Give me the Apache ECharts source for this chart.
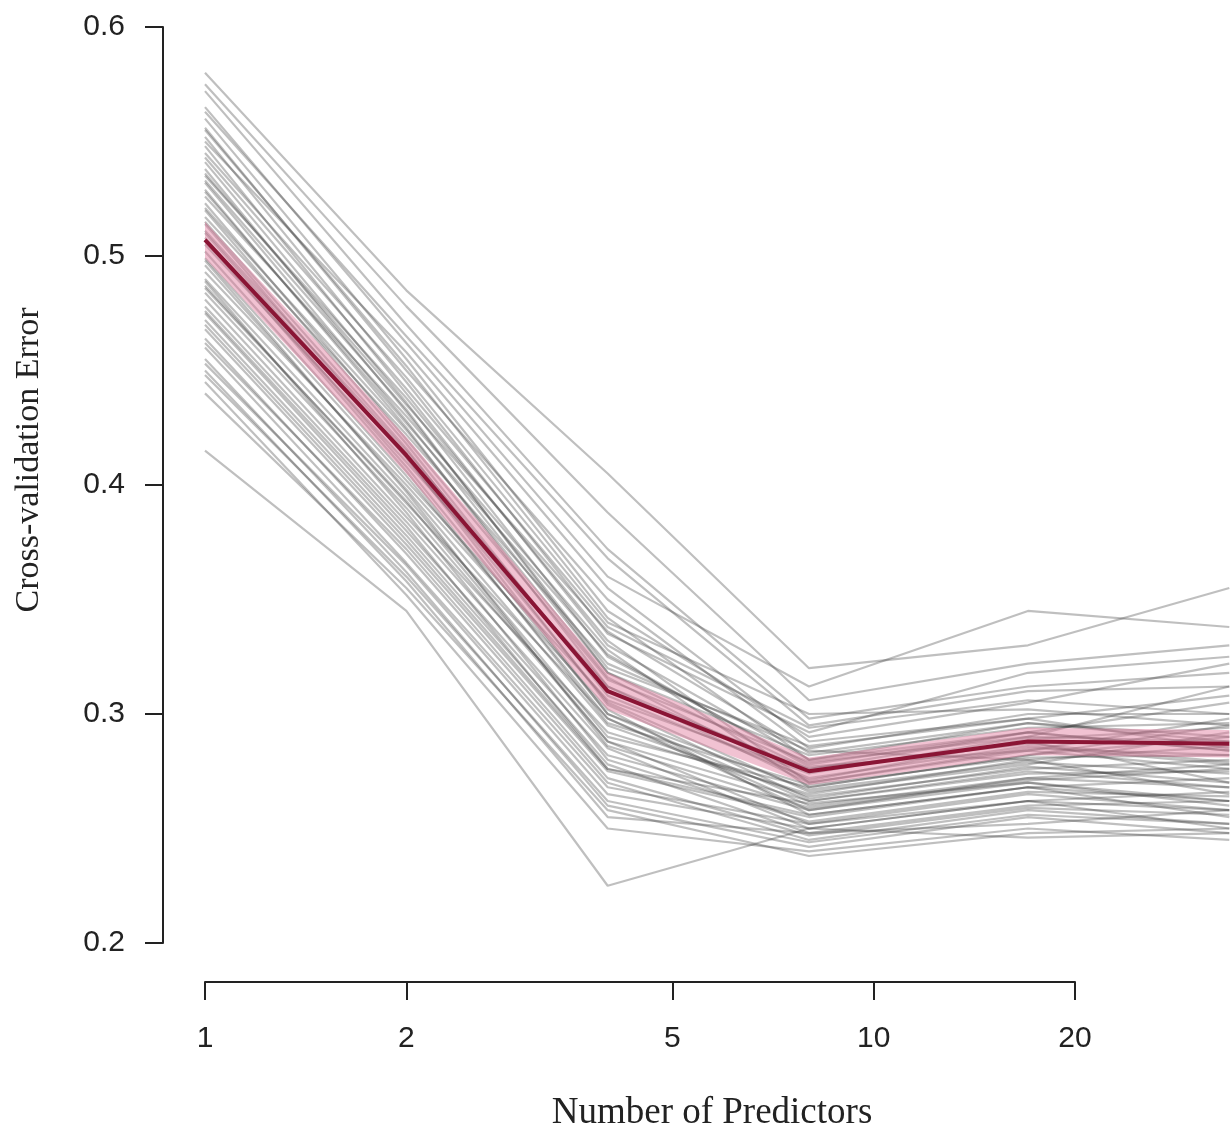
<!DOCTYPE html>
<html>
<head>
<meta charset="utf-8">
<script src="https://cdn.jsdelivr.net/npm/echarts@6/dist/echarts.min.js"></script>
<style>
html,body{margin:0;padding:0;background:#ffffff;}
#chart{width:1231px;height:1139px;}
</style>
</head>
<body>
<div id="chart"></div>
<script>
// Number of predictors at which cross-validation error was evaluated
const predictors = [1, 2, 4, 8, 17, 34];

// Individual cross-validation runs (gray lines)
const run01 = [0.580, 0.485, 0.405, 0.320, 0.330, 0.355];
const run02 = [0.572, 0.470, 0.372, 0.298, 0.312, 0.318];
const run03 = [0.565, 0.462, 0.360, 0.312, 0.345, 0.338];
const run04 = [0.560, 0.455, 0.345, 0.290, 0.305, 0.322];
const run05 = [0.556, 0.450, 0.350, 0.285, 0.300, 0.300];
const run06 = [0.552, 0.445, 0.335, 0.292, 0.318, 0.325];
const run07 = [0.548, 0.440, 0.330, 0.280, 0.296, 0.290];
const run08 = [0.545, 0.447, 0.340, 0.300, 0.302, 0.295];
const run09 = [0.541, 0.436, 0.325, 0.278, 0.292, 0.305];
const run10 = [0.538, 0.432, 0.320, 0.286, 0.298, 0.285];
const run11 = [0.535, 0.438, 0.332, 0.270, 0.285, 0.282];
const run12 = [0.532, 0.428, 0.318, 0.282, 0.294, 0.296];
const run13 = [0.529, 0.425, 0.312, 0.275, 0.288, 0.270];
const run14 = [0.526, 0.430, 0.328, 0.268, 0.282, 0.290];
const run15 = [0.523, 0.420, 0.315, 0.279, 0.290, 0.312];
const run16 = [0.520, 0.418, 0.308, 0.272, 0.286, 0.278];
const run17 = [0.517, 0.422, 0.322, 0.284, 0.280, 0.265];
const run18 = [0.514, 0.412, 0.305, 0.266, 0.278, 0.292];
const run19 = [0.511, 0.415, 0.310, 0.276, 0.292, 0.284];
const run20 = [0.508, 0.408, 0.300, 0.262, 0.274, 0.275];
const run21 = [0.505, 0.410, 0.312, 0.270, 0.284, 0.298];
const run22 = [0.502, 0.404, 0.298, 0.258, 0.270, 0.262];
const run23 = [0.499, 0.402, 0.306, 0.274, 0.290, 0.288];
const run24 = [0.496, 0.398, 0.295, 0.264, 0.276, 0.280];
const run25 = [0.493, 0.400, 0.302, 0.256, 0.268, 0.255];
const run26 = [0.490, 0.395, 0.290, 0.268, 0.282, 0.295];
const run27 = [0.487, 0.392, 0.298, 0.260, 0.272, 0.268];
const run28 = [0.484, 0.390, 0.288, 0.252, 0.265, 0.258];
const run29 = [0.481, 0.386, 0.292, 0.265, 0.280, 0.286];
const run30 = [0.478, 0.384, 0.285, 0.250, 0.262, 0.250];
const run31 = [0.475, 0.380, 0.282, 0.258, 0.272, 0.278];
const run32 = [0.472, 0.378, 0.278, 0.248, 0.260, 0.262];
const run33 = [0.468, 0.374, 0.275, 0.255, 0.268, 0.272];
const run34 = [0.464, 0.370, 0.270, 0.245, 0.258, 0.252];
const run35 = [0.460, 0.366, 0.268, 0.252, 0.262, 0.266];
const run36 = [0.455, 0.362, 0.260, 0.242, 0.255, 0.248];
const run37 = [0.450, 0.358, 0.255, 0.248, 0.252, 0.258];
const run38 = [0.445, 0.352, 0.250, 0.240, 0.250, 0.245];
const run39 = [0.440, 0.355, 0.258, 0.238, 0.248, 0.250];
const run40 = [0.415, 0.345, 0.225, 0.250, 0.246, 0.248];
const run41 = [0.575, 0.478, 0.388, 0.306, 0.322, 0.330];
const run42 = [0.563, 0.465, 0.368, 0.295, 0.310, 0.312];
const run43 = [0.550, 0.458, 0.355, 0.288, 0.298, 0.308];
const run44 = [0.543, 0.442, 0.338, 0.294, 0.306, 0.300];
const run45 = [0.536, 0.435, 0.336, 0.283, 0.296, 0.288];
const run46 = [0.528, 0.427, 0.326, 0.277, 0.284, 0.276];
const run47 = [0.521, 0.424, 0.316, 0.271, 0.289, 0.294];
const run48 = [0.515, 0.416, 0.304, 0.263, 0.277, 0.270];
const run49 = [0.507, 0.406, 0.296, 0.269, 0.281, 0.282];
const run50 = [0.498, 0.397, 0.286, 0.259, 0.271, 0.276];
const run51 = [0.489, 0.388, 0.280, 0.253, 0.266, 0.264];
const run52 = [0.476, 0.382, 0.276, 0.261, 0.270, 0.260];
const run53 = [0.462, 0.372, 0.272, 0.247, 0.259, 0.256];
const run54 = [0.448, 0.360, 0.262, 0.244, 0.256, 0.252];
const run55 = [0.555, 0.452, 0.342, 0.280, 0.292, 0.284];
const run56 = [0.533, 0.433, 0.318, 0.276, 0.287, 0.279];
const run57 = [0.510, 0.412, 0.300, 0.267, 0.279, 0.274];
const run58 = [0.486, 0.393, 0.288, 0.262, 0.275, 0.268];
const run59 = [0.470, 0.376, 0.276, 0.256, 0.268, 0.262];
const run60 = [0.453, 0.365, 0.265, 0.250, 0.262, 0.258];

const runs = [run01, run02, run03, run04, run05, run06, run07, run08, run09, run10,
  run11, run12, run13, run14, run15, run16, run17, run18, run19, run20,
  run21, run22, run23, run24, run25, run26, run27, run28, run29, run30,
  run31, run32, run33, run34, run35, run36, run37, run38, run39, run40,
  run41, run42, run43, run44, run45, run46, run47, run48, run49, run50,
  run51, run52, run53, run54, run55, run56, run57, run58, run59, run60];

// Mean cross-validation error (red) and its band (pink)
const meanError = [0.507, 0.413, 0.310, 0.275, 0.288, 0.287];
const bandLow   = [0.499, 0.405, 0.302, 0.269, 0.282, 0.281];
const bandHigh  = [0.515, 0.421, 0.318, 0.281, 0.294, 0.293];

// Axis ticks
const xTicks = [1, 2, 5, 10, 20];
const yTicks = [0.2, 0.3, 0.4, 0.5, 0.6];

const xTitle = 'Number of Predictors';
const yTitle = 'Cross-validation Error';

const chart = echarts.init(document.getElementById('chart'), null, {renderer: 'canvas'});

const pairs = (ys) => predictors.map((x, i) => [x, ys[i]]);

const series = [];
runs.forEach((r) => {
  series.push({
    type: 'line', xAxisIndex: 0, yAxisIndex: 0,
    data: pairs(r), symbol: 'none', silent: true,
    lineStyle: {color: 'rgba(60,60,60,0.33)', width: 2.2},
    z: 2
  });
});
// pink band drawn as a polygon through the axes' own coordinate mapping
series.push({
  type: 'custom', xAxisIndex: 0, yAxisIndex: 0, silent: true, z: 3, clip: true,
  data: predictors.map((x, i) => [x, bandLow[i], bandHigh[i]]),
  encode: {x: 0, y: [1, 2]},
  renderItem: (params, api) => {
    if (params.dataIndex !== 0) return null;
    const top = predictors.map((x, i) => api.coord([x, bandHigh[i]]));
    const bot = predictors.map((x, i) => api.coord([x, bandLow[i]])).reverse();
    return {
      type: 'polygon',
      shape: {points: top.concat(bot)},
      style: {fill: 'rgba(225,120,155,0.45)'}
    };
  }
});
series.push({
  type: 'line', xAxisIndex: 0, yAxisIndex: 0,
  data: pairs(meanError), symbol: 'none', silent: true,
  lineStyle: {color: '#8a1535', width: 4}, z: 4
});

const option = {
  animation: false,
  backgroundColor: '#ffffff',
  grid: [
    {left: 205, top: 27, right: 0, bottom: 196, containLabel: false},
    {left: 205, width: 870, top: 981, height: 1, containLabel: false}
  ],
  xAxis: [
    {
      type: 'log', logBase: 2, gridIndex: 0, min: 1, max: 34.2,
      axisLine: {show: false}, axisTick: {show: false}, axisLabel: {show: false}, splitLine: {show: false}
    },
    {
      type: 'log', logBase: 10, gridIndex: 1, min: 1, max: 20, position: 'bottom',
      axisLine: {show: true, onZero: false, lineStyle: {color: '#222', width: 2}},
      axisTick: {show: true, inside: false, length: 18, customValues: xTicks, lineStyle: {color: '#222', width: 2}},
      axisLabel: {show: true, customValues: xTicks, margin: 42, color: '#222', fontSize: 30, fontFamily: 'Liberation Sans, Arial, sans-serif', formatter: (v) => String(Math.round(v))},
      splitLine: {show: false}
    }
  ],
  yAxis: [
    {
      type: 'value', gridIndex: 0, min: 0.2, max: 0.6, interval: 0.1, offset: 42,
      axisLine: {show: true, lineStyle: {color: '#222', width: 2}},
      axisTick: {show: true, length: 18, lineStyle: {color: '#222', width: 2}},
      axisLabel: {show: true, margin: 38, color: '#222', fontSize: 30, fontFamily: 'Liberation Sans, Arial, sans-serif', formatter: (v) => v.toFixed(1)},
      splitLine: {show: false}
    },
    {
      type: 'value', gridIndex: 1, min: 0, max: 1, show: false
    }
  ],
  graphic: [
    {
      type: 'text', x: 712, y: 1113,
      style: {text: xTitle, fill: '#222', font: '37px "Liberation Serif", "Times New Roman", serif', textAlign: 'center', textVerticalAlign: 'middle'}
    },
    {
      type: 'text', x: 29, y: 460, rotation: Math.PI / 2,
      style: {text: yTitle, fill: '#222', font: '34px "Liberation Serif", "Times New Roman", serif', textAlign: 'center', textVerticalAlign: 'middle'}
    }
  ],
  series: series
};
chart.setOption(option);
</script>
</body>
</html>
